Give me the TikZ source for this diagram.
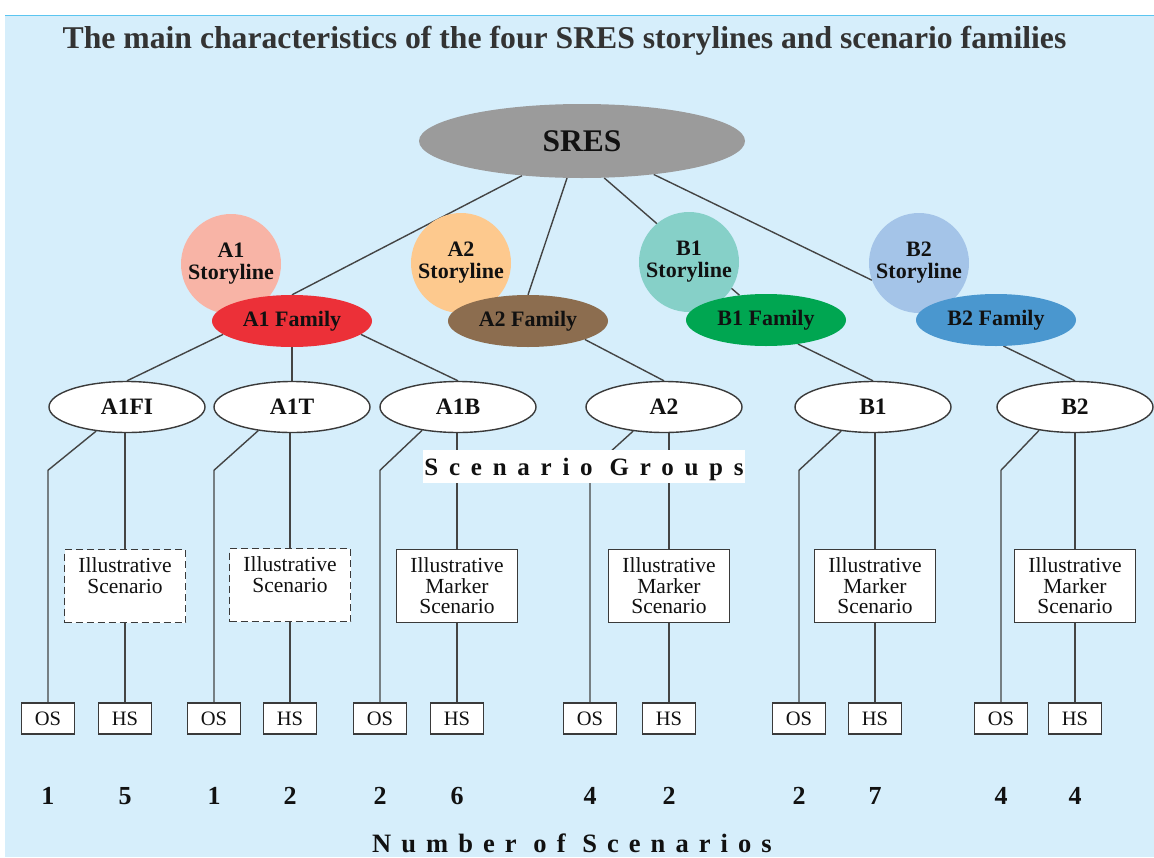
\documentclass[tikz,border=0pt]{standalone}
\usepackage{fontspec}
\setmainfont{Liberation Serif}
\newfontfamily\spacedfont[LetterSpace=38]{Liberation Serif}
\newfontfamily\spacedfontb[LetterSpace=43]{Liberation Serif}
\usetikzlibrary{shapes.geometric}
\pgfdeclarelayer{bg}
\pgfsetlayers{bg,main}
\definecolor{bgc}{HTML}{D6EEFB}
\definecolor{topline}{HTML}{5BC5F0}
\definecolor{linec}{HTML}{444444}
\definecolor{edgec}{HTML}{3A3A3A}
\definecolor{txt}{HTML}{111111}
\definecolor{titlec}{HTML}{333333}
\definecolor{sresc}{HTML}{9B9B9B}
\definecolor{aones}{HTML}{F8B4A6}
\definecolor{aonef}{HTML}{EC3038}
\definecolor{atwos}{HTML}{FDC98E}
\definecolor{atwof}{HTML}{8C6D4F}
\definecolor{bones}{HTML}{86D0C8}
\definecolor{bonef}{HTML}{00A651}
\definecolor{btwos}{HTML}{A4C4E8}
\definecolor{btwof}{HTML}{4A97CF}
\begin{document}
\begin{tikzpicture}[x=1pt,y=-1pt,
  conn/.style={draw=linec, line width=1.4pt},
  storybox/.style={circle, minimum size=100, inner sep=0, align=center, text=txt,
    font=\fontsize{22}{22}\selectfont\bfseries},
  fam/.style={ellipse, minimum width=160, minimum height=52, inner sep=0, text=txt,
    font=\fontsize{22}{22}\selectfont\bfseries},
  grp/.style={ellipse, draw=edgec, line width=1.4pt, fill=white, minimum width=156,
    minimum height=51, inner sep=0, text=txt, font=\fontsize{23.5}{24}\selectfont\bfseries},
  illus/.style={rectangle, draw=edgec, line width=1.4pt, fill=white, minimum width=121,
    minimum height=73, inner sep=0, align=center, text=txt, font=\fontsize{21.5}{20.5}\selectfont},
  illusdash/.style={illus, dash pattern=on 7pt off 4pt},
  leaf/.style={rectangle, draw=edgec, line width=1.5pt, fill=white, minimum width=53,
    minimum height=31, inner sep=0, text=txt, font=\fontsize{20.5}{20}\selectfont},
  count/.style={inner sep=0, text=txt, font=\fontsize{26}{26}\selectfont\bfseries},
  spaced/.style={inner sep=0, text=txt}
]
\useasboundingbox (0,0) rectangle (1154,857);

% title
\node[anchor=base, inner sep=0, text=titlec, font=\fontsize{31.7}{32}\selectfont\bfseries]
  (title) at (564.5,48.5) {The main characteristics of the four SRES storylines and scenario families};

% top
\node[ellipse, fill=sresc, minimum width=326, minimum height=74, inner sep=0, text=txt,
  font=\fontsize{31.5}{31.5}\selectfont\bfseries] (sres) at (582,141) {SRES};

% storylines
\node[storybox, fill=aones] (a1s) at (231,264) {A1\\Storyline};
\node[storybox, fill=atwos] (a2s) at (461,263) {A2\\Storyline};
\node[storybox, fill=bones] (b1s) at (689,262) {B1\\Storyline};
\node[storybox, fill=btwos] (b2s) at (919,263) {B2\\Storyline};

% families
\node[fam, fill=aonef] (a1f) at (292,321) {A1 Family};
\node[fam, fill=atwof] (a2f) at (528,321) {A2 Family};
\node[fam, fill=bonef] (b1f) at (766,320) {B1 Family};
\node[fam, fill=btwof] (b2f) at (996,320) {B2 Family};

% scenario groups
\node[grp] (ga1fi) at (127,407) {A1FI};
\node[grp] (ga1t)  at (292,407) {A1T};
\node[grp] (ga1b)  at (458,407) {A1B};
\node[grp] (ga2)   at (664,407) {A2};
\node[grp] (gb1)   at (873,407) {B1};
\node[grp] (gb2)   at (1075,407) {B2};

\node[spaced, fill=white, minimum width=322, minimum height=33, text depth=0pt,
  font=\spacedfontb\bfseries\fontsize{25}{25}\selectfont]
  (sglabel) at (584,466.5) {Scenario Groups};

% illustrative boxes
\node[illusdash] (il1) at (125,586) {Illustrative\\Scenario\\~};
\node[illusdash] (il2) at (290,585) {Illustrative\\Scenario\\~};
\node[illus] (il3) at (457,586) {Illustrative\\Marker\\Scenario};
\node[illus] (il4) at (669,586) {Illustrative\\Marker\\Scenario};
\node[illus] (il5) at (875,586) {Illustrative\\Marker\\Scenario};
\node[illus] (il6) at (1075,586) {Illustrative\\Marker\\Scenario};

% leaves
\foreach \i/\ox/\hx/\on/\hn in {1/48/125/1/5, 2/214/290/1/2, 3/380/457/2/6,
    4/590/669/4/2, 5/799/875/2/7, 6/1001/1075/4/4}{
  \node[leaf] (os\i) at (\ox,718.5) {OS};
  \node[leaf] (hs\i) at (\hx,718.5) {HS};
  \node[count] (no\i) at (\ox,796) {\on};
  \node[count] (nh\i) at (\hx,796) {\hn};
}

\node[spaced, font=\spacedfont\bfseries\fontsize{26.5}{26.5}\selectfont] (nos) at (572,843) {Number of Scenarios};

% connectors and background
\begin{pgfonlayer}{bg}
  \fill[white] (0,0) rectangle (1154,857);
  \fill[bgc] (5,16) rectangle (1154,857);
  \draw[topline, line width=1.6pt] (5,15.5) -- (1154,15.5);

  \draw[conn] (sres.210) -- (a1f.north);
  \draw[conn] (sres.248) -- (a2f.north);
  \draw[conn] (sres.301) -- (b1f.137);
  \draw[conn] (sres.335) -- (b2s.200);

  \draw[conn] (a1f.191) -- (ga1fi.north);
  \draw[conn] (a1f.south) -- (ga1t.north);
  \draw[conn] (a1f.-11) -- (ga1b.north);
  \draw[conn] (a2f.-18) -- (ga2.north);
  \draw[conn] (b1f.-37) -- (gb1.north);
  \draw[conn] (b2f.-74) -- (gb2.north);

  \foreach \g/\i/\a in {ga1fi/1/218, ga1t/2/215, ga1b/3/213, ga2/4/218, gb1/5/217, gb2/6/213}{
    \draw[conn] (\g.\a) -- ([yshift=232pt]os\i.north) -- (os\i.north);
    \draw[conn] (\g.south -| il\i.north) -- (il\i.north);
    \draw[conn] (il\i.south) -- (hs\i.north);
  }
\end{pgfonlayer}
\end{tikzpicture}
\end{document}
